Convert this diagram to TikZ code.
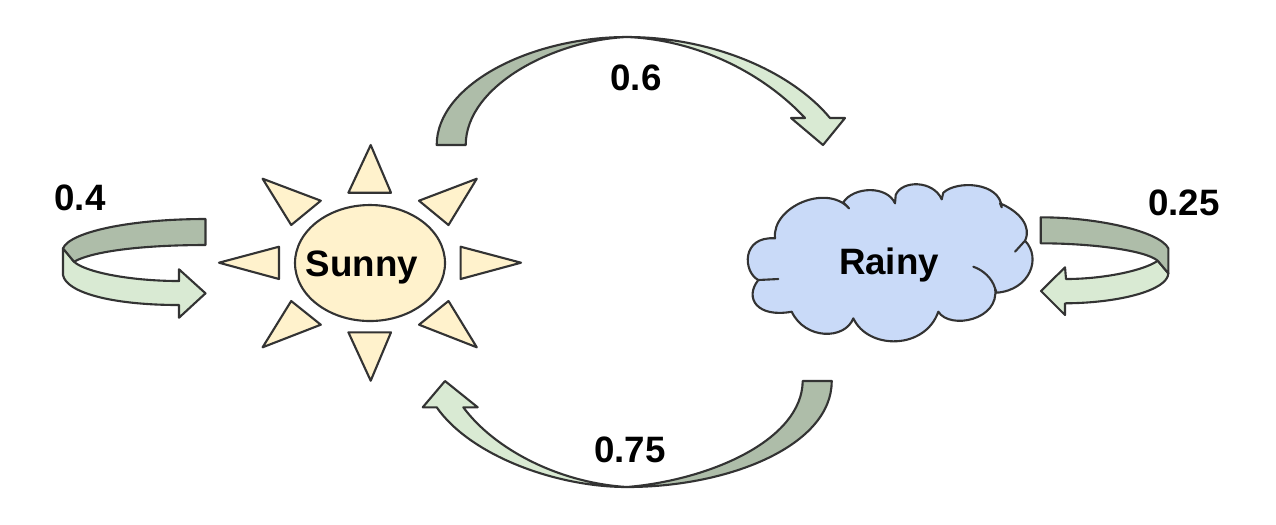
\documentclass[tikz,border=0pt]{standalone}
\usepackage{fontspec}
\setmainfont{Liberation Sans}
\usetikzlibrary{shapes.geometric}

\definecolor{sunfill}{HTML}{FFF2CC}
\definecolor{cloudfill}{HTML}{C9DAF8}
\definecolor{lightband}{HTML}{D9EAD3}
\definecolor{darkband}{HTML}{AEBDA9}
\definecolor{edgeline}{HTML}{333333}

\tikzset{
  shape line/.style={draw=edgeline, line width=0.6pt, line join=round},
  ray/.style={shape line, fill=sunfill},
  band dark/.style={shape line, fill=darkband},
  band light/.style={shape line, fill=lightband},
  prob/.style={font=\fontsize{10.45}{12}\selectfont\bfseries, inner sep=0pt},
}

\begin{document}
\begin{tikzpicture}[x=0.1mm, y=-0.1mm]
    \useasboundingbox (0,0) rectangle (1276,524);

    % sun
    \node[ellipse, ray, minimum width=15mm, minimum height=11.6mm, inner sep=0pt] (sun) at (370,263) {};
    \foreach \ax/\ay/\bx/\by/\cx/\cy in {
        370.7/145/348.4/192.7/391/192.7,
        370.7/380.7/348.4/332.3/391/332.3,
        219/262.7/279/246.7/279/279,
        521/262.7/460.6/246.7/460.6/279,
        262.6/178.7/320.8/200.7/291.2/225,
        476.8/178.7/419/200.7/448.5/225,
        262.6/347.3/320.8/324.7/291.2/301,
        476.8/347.3/419/324.7/448.5/301}
      \draw[ray] (\ax,\ay) -- (\bx,\by) -- (\cx,\cy) -- cycle;
    \node[prob] (sunny) at (362,267) {Sunny};

    % cloud
    \draw[shape line, fill=cloudfill]
      (775,238.3) .. controls (771.7,206.7) and (826.7,183.3) .. (849,208.3)
      -- (843.3,202.3) .. controls (853.3,186.7) and (886.7,185) .. (895,203.3)
      -- (895.7,195) .. controls (901.7,180) and (933.3,180) .. (941.7,199.3)
      -- (943.3,192.7) .. controls (956.7,180) and (1000,182) .. (1001.7,207.3)
      -- (1000,203.3) .. controls (1020,211.7) and (1031.7,226.7) .. (1025,240.7)
      -- (1015,251.7) -- (1025,240.7) .. controls (1041.7,258) and (1030,290) .. (996.7,292.7)
      -- (995,288.3) .. controls (992,278) and (983,270) .. (973.3,266.7)
      .. controls (983,270) and (992,278) .. (995,288.3)
      .. controls (1000,320) and (950,330) .. (938.3,311.7)
      .. controls (925,350) and (868,350) .. (853.3,318.3)
      .. controls (845,340) and (805,340) .. (791.7,311.7)
      .. controls (757,318) and (744,298) .. (758.3,280)
      -- (778.3,279) -- (758.3,280)
      .. controls (743,272) and (741,236) .. (775,238.3) -- cycle;
    \node[prob] (rainy) at (889,265) {Rainy};

    % sunny to rainy
    \draw[band light] (627,37) .. controls (710,37) and (790,70) .. (830,118) -- (845,118) -- (823,145)
      -- (791,118) -- (805,118) .. controls (765,75) and (700,40) .. (627,37) -- cycle;
    \draw[band dark] (436.7,145) .. controls (436.7,85) and (530,37) .. (627,37)
      .. controls (555,40) and (466,85) .. (465.7,145) -- cycle;
    \node[prob] (psr) at (636,78) {0.6};

    % rainy to sunny
    \draw[band light] (627,487) .. controls (555,487) and (470,455) .. (436.7,407.3) -- (422.7,407.3) -- (445,381)
      -- (477.7,407.3) -- (463.3,407.3) .. controls (495,450) and (560,483) .. (627,487) -- cycle;
    \draw[band dark] (627,487) .. controls (730,487) and (832,445) .. (831.7,381) -- (802.7,381)
      .. controls (802,440) and (710,480) .. (627,487) -- cycle;
    \node[prob] (prs) at (630,450) {0.75};

    % sunny to sunny
    \draw[band light] (63,248.3) -- (63,275) .. controls (66,292) and (110,305) .. (179,305) -- (179,317.7)
      -- (205.5,293.3) -- (179,269.3) -- (179,281) .. controls (130,281) and (85,272) .. (74,261.7) -- cycle;
    \draw[band dark] (205.5,219) -- (205.5,245) .. controls (150,245) and (95,250) .. (74,261.7) -- (63,248.3)
      .. controls (70,232) and (130,219) .. (205.5,219) -- cycle;
    \node[prob] (pss) at (80,198) {0.4};

    % rainy to rainy
    \draw[band light] (1157.7,260.7) -- (1168.3,273.3) .. controls (1168,290) and (1120,303) .. (1065,303.3)
      -- (1065,315) -- (1041,291) -- (1065,267.3) -- (1066,279) .. controls (1105,279) and (1145,270) .. (1157.7,260.7) -- cycle;
    \draw[band dark] (1040.7,217.3) -- (1040.7,243.3) .. controls (1090,243.3) and (1145,250) .. (1157.7,260.7)
      -- (1168.3,273.3) -- (1168.3,248.3) .. controls (1160,232) and (1100,217.3) .. (1040.7,217.3) -- cycle;
    \node[prob] (prr) at (1184,203) {0.25};
\end{tikzpicture}
\end{document}
